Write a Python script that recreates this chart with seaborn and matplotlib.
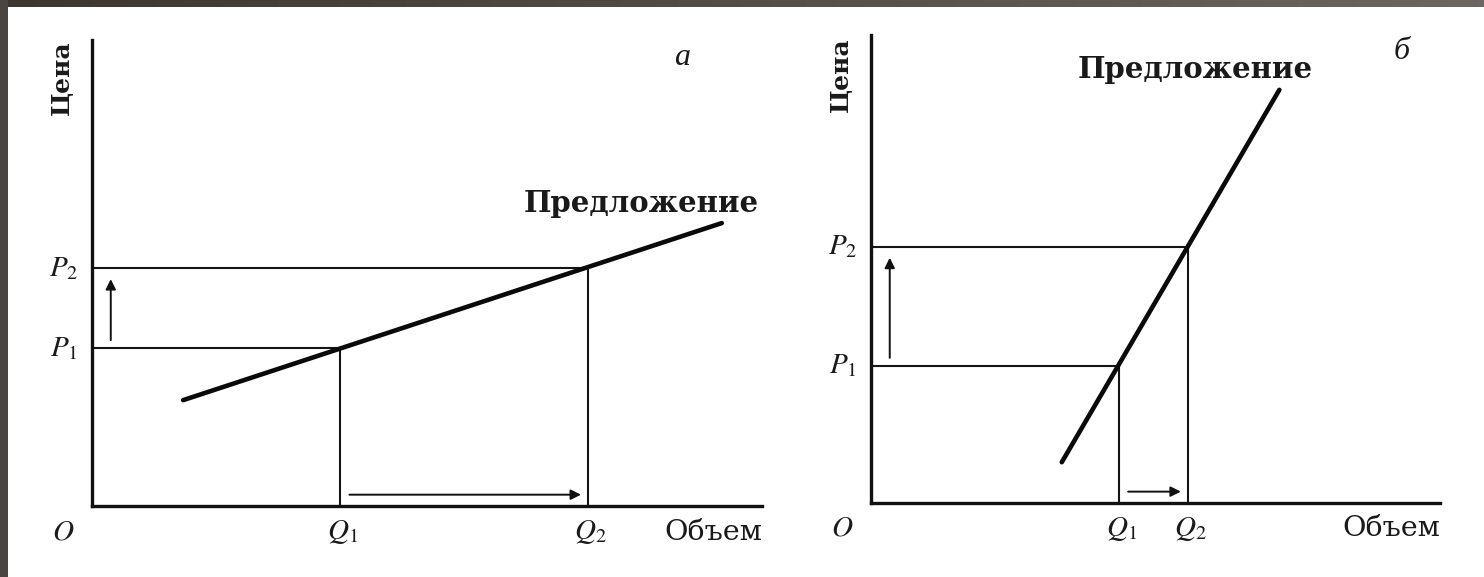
import numpy as np
import seaborn as sns
import matplotlib.pyplot as plt

# two supply diagrams: elastic (a) and inelastic (b) supply
panel_names = ["а", "б"]
q1 = [3.7, 3.7]
q2 = [7.4, 4.73]
p1 = [2.37, 2.05]
p2 = [3.57, 3.83]
supply_x = [[1.36, 9.4], [2.85, 6.1]]
supply_y = [[1.59, 4.25], [0.61, 6.18]]
x_max = [10, 8.5]
y_max = [7, 7]

supply_label = "Предложение"
price_label = "Цена"
volume_label = "Объем"

sns.set_theme(style="white")
plt.rcParams["font.family"] = ["Liberation Serif", "DejaVu Serif"]
plt.rcParams["mathtext.fontset"] = "stix"

W, H = 1484, 577
fig = plt.figure(figsize=(W / 100, H / 100), dpi=100)
fig.patch.set_facecolor("white")


def px_axes(x0, x1, y_top, y_bot):
    return fig.add_axes([x0 / W, 1 - y_bot / H, (x1 - x0) / W, (y_bot - y_top) / H])


# dark slide frame at the top and left
top = fig.add_axes([0, 1 - 7 / H, 1, 7 / H])
top.imshow(np.linspace(0, 1, 256)[None, :], aspect="auto", cmap=sns.blend_palette(["#3b3632", "#6b6662"], as_cmap=True))
top.axis("off")
left = fig.add_axes([0, 0, 8 / W, 1])
left.set_facecolor("#4a4541")
left.set_xticks([])
left.set_yticks([])
for s in left.spines.values():
    s.set_visible(False)

axes = [px_axes(92, 762, 40, 506), px_axes(871, 1440, 35, 503)]
label_pos = [
    {"supply": (8.2, 4.55), "name": (8.8, 6.74), "price_y": 6.43},
    {"supply": (4.85, 6.48), "name": (7.93, 6.75), "price_y": 6.4},
]
serif_wide = ["DejaVu Serif"]

for i, ax in enumerate(axes):
    ax.set_xlim(0, x_max[i])
    ax.set_ylim(0, y_max[i])
    ax.set_facecolor("none")
    ax.set_xticks([])
    ax.set_yticks([])
    for side in ["top", "right"]:
        ax.spines[side].set_visible(False)
    for side in ["left", "bottom"]:
        ax.spines[side].set_linewidth(2.4)
        ax.spines[side].set_color("#111111")

    # guide lines
    ax.hlines([p1[i], p2[i]], 0, [q1[i], q2[i]], color="#151515", lw=1.5)
    ax.vlines([q1[i], q2[i]], 0, [p1[i], p2[i]], color="#151515", lw=1.5)

    # supply curve
    sns.lineplot(x=supply_x[i], y=supply_y[i], ax=ax, color="#0a0a0a", lw=3.3, clip_on=False)

    # shift arrows
    ax.annotate("", xy=(0.28, p2[i] - 0.12), xytext=(0.28, p1[i] + 0.08),
                arrowprops=dict(arrowstyle="-|>", lw=1.4, color="#111111", mutation_scale=15))
    ax.annotate("", xy=(q2[i] - 0.06, 0.17), xytext=(q1[i] + 0.1, 0.17),
                arrowprops=dict(arrowstyle="-|>", lw=1.4, color="#111111", mutation_scale=15))

    # labels
    ax.text(*label_pos[i]["supply"], supply_label, ha="center", va="center", family=serif_wide,
            fontsize=21, fontweight="bold", color="#1a1a1a")
    ax.text(*label_pos[i]["name"], panel_names[i], ha="center", va="center",
            fontsize=23, style="italic", color="#1a1a1a")
    ax.annotate(price_label, xy=(0, label_pos[i]["price_y"]), xytext=(-30, 0), family=serif_wide,
                textcoords="offset pixels", rotation=90, ha="center", va="center",
                fontsize=18, fontweight="bold", color="#1a1a1a")
    ax.annotate(volume_label, xy=(x_max[i], 0), xytext=(0, -26), textcoords="offset pixels",
                family=serif_wide, ha="right", va="center", fontsize=20.5, color="#1a1a1a")
    ax.annotate(r"$O$", xy=(0, 0), xytext=(-29, -26), textcoords="offset pixels",
                ha="center", va="center", fontsize=21, color="#1a1a1a")
    for k, p in enumerate([p1[i], p2[i]]):
        ax.annotate(rf"$P_{k + 1}$", xy=(0, p), xytext=(-28, 0), textcoords="offset pixels",
                    ha="center", va="center", fontsize=21, color="#1a1a1a")
    for k, q in enumerate([q1[i], q2[i]]):
        ax.annotate(rf"$Q_{k + 1}$", xy=(q, 0), xytext=(3, -26), textcoords="offset pixels",
                    ha="center", va="center", fontsize=21, color="#1a1a1a")

fig.savefig("out.png", dpi=100, facecolor="white")
